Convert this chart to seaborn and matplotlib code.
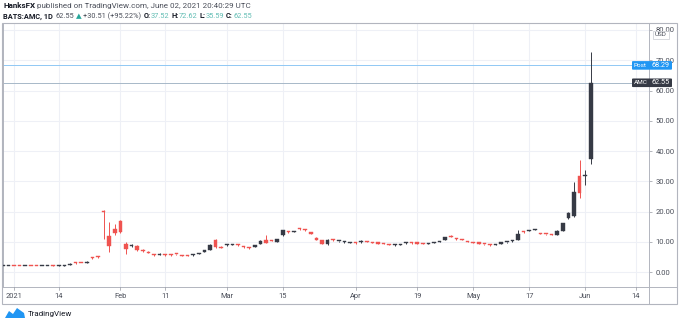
import numpy as np
import pandas as pd
import matplotlib
matplotlib.use("Agg")
import matplotlib.pyplot as plt
import seaborn as sns
from matplotlib.lines import Line2D
from matplotlib.patches import Rectangle, FancyBboxPatch, Polygon

# ---------------- data ----------------
holidays = ["2021-01-01", "2021-01-18", "2021-02-15", "2021-04-02", "2021-05-31"]
dates = [d for d in pd.bdate_range("2020-12-30", "2021-06-02") if d.strftime("%Y-%m-%d") not in holidays]

opens = [2.10, 2.12,
         2.20, 1.99, 1.98, 2.08, 2.05, 2.05, 2.13, 2.20, 2.18, 2.22,
         2.45, 3.20, 3.15, 3.05, 4.90, 5.20, 20.30, 12.00, 14.30, 17.00,
         9.50, 8.80, 8.60, 7.40, 6.80, 5.95, 5.85, 5.80, 5.80, 6.05, 5.60, 5.60,
         5.55, 6.00, 6.80, 7.30, 10.80, 8.50, 8.90, 9.10, 9.10, 8.50, 8.10,
         8.50, 9.30, 10.80, 10.60, 10.00, 12.30, 13.55, 13.30, 14.35, 14.10, 13.10,
         11.40, 10.60, 9.20, 10.80, 10.20, 9.95, 9.80, 9.80,
         9.90, 10.20, 9.90, 9.70, 9.50, 9.20, 8.90, 9.10, 9.60, 9.70,
         9.70, 9.50, 9.30, 9.70, 10.10, 10.80, 11.90, 11.20, 10.80,
         10.20, 10.00, 9.70, 9.40, 9.10, 9.10, 9.50, 9.90, 10.20,
         10.80, 13.50, 13.70, 13.95, 12.85, 12.70, 12.60, 12.40, 13.70, 17.80,
         18.50, 31.80, 31.90, 37.52]
highs = [2.18, 2.18,
         2.23, 2.05, 2.08, 2.11, 2.09, 2.15, 2.22, 2.30, 2.25, 2.40,
         3.00, 3.25, 3.20, 3.65, 5.20, 5.40, 20.40, 16.50, 16.00, 17.30,
         10.00, 9.30, 8.90, 7.60, 6.90, 6.10, 6.40, 5.90, 5.90, 6.20, 5.70, 5.70,
         6.00, 6.50, 7.50, 9.20, 11.00, 8.60, 9.30, 9.35, 9.20, 8.60, 8.20,
         9.00, 10.50, 12.30, 10.70, 11.10, 14.00, 13.70, 13.70, 14.50, 14.20, 13.20,
         11.60, 10.70, 10.90, 10.90, 10.40, 10.20, 10.00, 9.90,
         10.70, 10.30, 10.00, 9.80, 9.60, 9.30, 9.20, 9.50, 9.90, 9.90,
         9.80, 9.60, 9.60, 9.90, 10.40, 11.60, 12.40, 11.30, 11.00,
         10.40, 10.10, 9.80, 9.50, 9.20, 9.40, 9.80, 10.10, 10.50,
         14.10, 13.70, 14.00, 14.30, 13.00, 12.80, 12.70, 13.80, 16.40, 19.80,
         29.90, 37.10, 33.80, 72.62]
lows = [2.05, 2.08,
        1.98, 1.95, 1.97, 2.00, 2.00, 2.02, 2.10, 2.12, 2.12, 2.18,
        2.40, 2.90, 2.95, 2.95, 4.40, 4.80, 10.90, 6.70, 12.20, 13.00,
        6.00, 8.30, 7.00, 6.80, 6.30, 5.50, 5.60, 5.50, 5.50, 5.80, 5.30, 5.30,
        5.50, 5.90, 6.60, 7.20, 8.00, 7.90, 8.80, 8.90, 8.80, 8.00, 7.60,
        8.30, 9.20, 9.60, 10.20, 9.90, 12.10, 13.10, 13.20, 14.00, 13.70, 12.60,
        10.50, 9.20, 9.00, 10.30, 10.00, 9.80, 9.70, 9.40,
        9.80, 9.90, 9.60, 9.40, 9.20, 8.90, 8.80, 9.00, 9.40, 9.50,
        9.40, 9.20, 9.20, 9.60, 10.00, 10.70, 11.50, 10.80, 10.50,
        9.90, 9.70, 9.40, 9.10, 8.80, 9.00, 9.40, 9.80, 10.10,
        10.70, 13.10, 13.60, 13.90, 12.50, 12.30, 12.20, 12.30, 13.60, 17.60,
        18.30, 24.40, 28.80, 35.59]
closes = [2.12, 2.12,
          2.01, 1.98, 2.05, 2.03, 2.04, 2.13, 2.20, 2.17, 2.20, 2.32,
          2.90, 3.00, 3.00, 3.55, 4.60, 5.00, 19.90, 8.60, 13.00, 13.30,
          7.80, 8.90, 7.30, 7.00, 6.50, 5.65, 6.00, 5.60, 5.60, 5.90, 5.40, 5.40,
          5.90, 6.40, 7.30, 8.90, 8.20, 8.10, 9.20, 9.25, 8.90, 8.20, 7.90,
          8.90, 10.40, 9.70, 10.40, 11.00, 13.90, 13.30, 13.55, 14.15, 13.80, 12.80,
          10.60, 9.30, 10.80, 10.50, 10.30, 10.05, 9.90, 9.60,
          10.30, 10.00, 9.70, 9.50, 9.30, 9.00, 9.05, 9.30, 9.80, 9.55,
          9.50, 9.30, 9.55, 9.80, 10.30, 11.50, 11.70, 10.90, 10.60,
          10.00, 9.80, 9.50, 9.20, 8.90, 9.30, 9.70, 10.00, 10.40,
          12.80, 13.30, 13.90, 14.10, 12.60, 12.50, 12.40, 13.70, 16.30, 19.60,
          26.60, 26.30, 32.10, 62.55]

tick_dates = ["2021-01-04", "2021-01-14", "2021-02-01", "2021-02-11", "2021-03-01", "2021-03-15",
              "2021-04-01", "2021-04-19", "2021-05-03", "2021-05-17", "2021-06-01", "2021-06-14"]
tick_labels = ["2021", "14", "Feb", "11", "Mar", "15", "Apr", "19", "May", "17", "Jun", "14"]
y_ticks = [0, 10, 20, 30, 40, 50, 60, 70, 80]
post_price = 68.29
last_price = 62.55

# ---------------- figure ----------------
sns.set_theme(style="white")
plt.rcParams["font.family"] = ["Roboto", "DejaVu Sans"]

W, H = 680, 325
fig = plt.figure(figsize=(W / 100, H / 100), dpi=100)
fig.patch.set_facecolor("white")

def fx(px):
    return px / W

def fy(py):
    return 1 - py / H

ax_l, ax_r, ax_t, ax_b = 3, 649, 23, 287.3
ax = fig.add_axes([fx(ax_l), fy(ax_b), fx(ax_r - ax_l), (ax_b - ax_t) / H])

# trading-day index positions (Jan 4 2021 = 0)
all_days = [d for d in pd.bdate_range("2020-12-01", "2021-07-30") if d.strftime("%Y-%m-%d") not in holidays]
pos_of = {d.strftime("%Y-%m-%d"): i - all_days.index(pd.Timestamp("2021-01-04")) for i, d in enumerate(all_days)}
xpos = np.array([pos_of[d.strftime("%Y-%m-%d")] for d in dates])

df = pd.DataFrame({"x": xpos, "open": opens, "high": highs, "low": lows, "close": closes})
df["up"] = df["close"] >= df["open"]
up_col = "#363a45"
dn_col = "#ef5350"
df["color"] = np.where(df["up"], up_col, dn_col)
df["bottom"] = np.minimum(df["open"], df["close"])
df["body"] = np.maximum((df["close"] - df["open"]).abs(), 0.35)

# grid
xt = [pos_of[d] for d in tick_dates]
for v in xt:
    ax.axvline(v, color="#eef0f6", lw=0.8, zorder=0)
for v in y_ticks:
    ax.axhline(v, color="#eef0f6", lw=0.8, zorder=0)

# price lines
ax.axhline(post_price, color="#90c8f4", lw=0.7, zorder=1)
ax.axhline(last_price, color="#a7b8c8", lw=0.7, zorder=1)

# wicks and bodies
ax.vlines(df["x"], df["low"], df["high"], colors=df["color"], lw=0.7, zorder=2)
ax.bar(df["x"], df["body"], bottom=df["bottom"], width=0.62, color=df["color"],
       edgecolor=df["color"], linewidth=0.3, zorder=3)

ax.set_xlim((ax_l - 14) / 5.6, (ax_r - 14) / 5.6)
y0px = 272.3
ppu = 3.03
ax.set_ylim((y0px - ax_b) / ppu, (y0px - ax_t) / ppu)

ax.set_xticks([])
ax.set_yticks(y_ticks)
ax.yaxis.tick_right()
ax.tick_params(axis="y", right=True, length=2.5, width=0.5, color="#9598a1", pad=2,
               labelsize=5.5, labelcolor="#4a4e59")
ax.set_yticklabels([f"{v:.2f}" for v in y_ticks])
for s in ax.spines.values():
    s.set_color("#b2b5be")
    s.set_linewidth(0.7)

# outer frame and date row
frame_col = "#b2b5be"
fig.add_artist(Rectangle((fx(2), fy(304)), fx(675), (304 - 23) / H, transform=fig.transFigure,
                         fill=False, edgecolor=frame_col, lw=0.8))
fig.add_artist(Line2D([fx(649), fx(649)], [fy(287.3), fy(304)], transform=fig.transFigure,
                      color=frame_col, lw=0.7))
fig.add_artist(Line2D([fx(649), fx(677)], [fy(287.3), fy(287.3)], transform=fig.transFigure,
                      color=frame_col, lw=0.7))

# date labels
for v, lab in zip(xt, tick_labels):
    xpx = 14 + v * 5.6
    fig.add_artist(Line2D([fx(xpx), fx(xpx)], [fy(287.3), fy(290)], transform=fig.transFigure,
                          color="#9598a1", lw=0.5))
    fig.text(fx(xpx), fy(296), lab, ha="center", va="center", fontsize=5.4, color="#4a4e59")

# USD box
fig.text(fx(661), fy(35), "USD", ha="center", va="center", fontsize=4.6, color="#4a4e59", zorder=7,
         bbox=dict(boxstyle="square,pad=0.25", fc="white", ec="#c8cad0", lw=0.5))

# price labels
def price_label(yv, name, col):
    ypx = y0px - yv * ppu
    fig.add_artist(FancyBboxPatch((fx(632), fy(ypx + 4.3)), fx(40), 8.6 / H,
                                  boxstyle="round,pad=0,rounding_size=0.002",
                                  transform=fig.transFigure, fc=col, ec="none", zorder=5))
    fig.text(fx(640.5), fy(ypx), name, ha="center", va="center", fontsize=4.6, color="white", zorder=6)
    fig.text(fx(661), fy(ypx), f"{yv:.2f}", ha="center", va="center", fontsize=5.2, color="white", zorder=6)

price_label(post_price, "Post", "#2196f3")
price_label(last_price, "AMC", "#363a45")

# header
renderer = fig.canvas.get_renderer()

def seq(parts, x0, ypx, size=5.8):
    x = fx(x0)
    for txt, col, wt, gap in parts:
        t = fig.text(x, fy(ypx), txt, ha="left", va="center", fontsize=size, color=col, fontweight=wt)
        bb = t.get_window_extent(renderer)
        x += bb.width / W + fx(gap)

dark = "#131722"
grey = "#4a4e59"
teal = "#26a69a"
lteal = "#62bdb4"
seq([("HanksFX", dark, "bold", 2.2),
     ("published on TradingView.com, June 02, 2021 20:40:29 UTC", grey, "normal", 0)], 3, 6)
seq([("BATS:AMC, 1D", dark, "bold", 2.2), ("62.55", grey, "normal", 1.8), ("▲", teal, "normal", 1.8),
     ("+30.51 (+95.22%)", grey, "normal", 2.2),
     ("O:", dark, "bold", 0.3), ("37.52", lteal, "normal", 1.8),
     ("H:", dark, "bold", 0.3), ("72.62", lteal, "normal", 1.8),
     ("L:", dark, "bold", 0.3), ("35.59", lteal, "normal", 1.8),
     ("C:", dark, "bold", 0.3), ("62.55", lteal, "normal", 0)], 3, 16.5, size=5.3)

# footer logo
fig.add_artist(Polygon([[fx(5), fy(318)], [fx(9), fy(311)], [fx(13), fy(314)], [fx(17), fy(308)],
                        [fx(24), fy(313)], [fx(25), fy(318)]], closed=True, transform=fig.transFigure,
                       fc="#2196f3", ec="none"))
fig.text(fx(28), fy(314), "TradingView", ha="left", va="center", fontsize=5.8, color="#131722")

fig.savefig("out.png", dpi=100, facecolor="white")
